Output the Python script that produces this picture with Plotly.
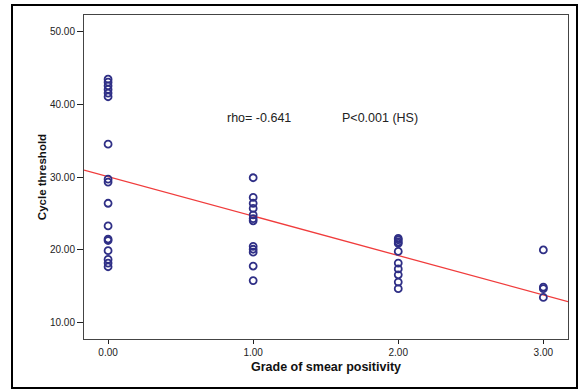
import plotly.graph_objects as go
import numpy as np

# Data
grade = ([0.0] * 17) + ([1.0] * 12) + ([2.0] * 10) + ([3.0] * 4)
ct_grade0 = [43.4, 43.0, 42.5, 42.0, 41.5, 41.0, 34.5, 29.7, 29.3, 26.4, 23.3,
             21.5, 21.3, 19.9, 18.7, 18.2, 17.7]
ct_grade1 = [29.9, 27.2, 26.4, 25.7, 24.8, 24.3, 24.0, 20.5, 20.1, 19.7, 17.8, 15.8]
ct_grade2 = [21.6, 21.4, 21.1, 20.9, 19.8, 18.2, 17.4, 16.6, 15.6, 14.7]
ct_grade3 = [20.0, 14.9, 14.7, 13.5]
cycle_threshold = ct_grade0 + ct_grade1 + ct_grade2 + ct_grade3

fit_intercept = 30.06
fit_slope = -5.41

x_ticks = [0, 1, 2, 3]
x_tick_labels = ["0.00", "1.00", "2.00", "3.00"]
y_ticks = [10, 20, 30, 40, 50]
y_tick_labels = ["10.00", "20.00", "30.00", "40.00", "50.00"]

x_range = [-0.166, 3.17]
y_range = [7.8, 52.2]

line_x = np.array(x_range)
line_y = fit_intercept + fit_slope * line_x

fig = go.Figure()
fig.add_trace(go.Scatter(
    x=line_x, y=line_y, mode="lines",
    line=dict(color="#f03c3c", width=1.3), hoverinfo="skip", showlegend=False))
fig.add_trace(go.Scatter(
    x=grade, y=cycle_threshold, mode="markers",
    marker=dict(symbol="circle-open", size=7, color="#2f2f86",
                line=dict(width=1.8, color="#2f2f86")),
    showlegend=False))

ann_font = dict(family="Liberation Sans, Arial", size=12.5, color="#222")
fig.add_annotation(x=1.04, y=38.1, text="rho= -0.641", showarrow=False, font=ann_font)
fig.add_annotation(x=1.876, y=38.1, text="P<0.001 (HS)", showarrow=False, font=ann_font)

# outer frame
fig.add_shape(type="rect", xref="paper", yref="paper",
              x0=(12 - 84) / 484, x1=(577 - 84) / 484,
              y0=(339 - 388) / 324, y1=(339 - 5) / 324,
              line=dict(color="black", width=2), layer="below")

axis_font = dict(family="Liberation Sans, Arial", size=10, color="#222")

fig.update_layout(
    width=579, height=390,
    margin=dict(l=84, r=11, t=15, b=51),
    paper_bgcolor="white", plot_bgcolor="white",
    xaxis=dict(range=x_range, tickvals=x_ticks, ticktext=x_tick_labels,
               showgrid=False, zeroline=False, showline=True, mirror=True,
               linecolor="#444", linewidth=1, ticks="outside", ticklen=4,
               tickcolor="#222", tickfont=axis_font,
               title=dict(text="<b>Grade of smear positivity</b>",
                          font=dict(family="Liberation Sans, Arial", size=12.5, color="#111"),
                          standoff=5)),
    yaxis=dict(range=y_range, tickvals=y_ticks, ticktext=y_tick_labels,
               showgrid=False, zeroline=False, showline=True, mirror=True,
               linecolor="#444", linewidth=1, ticks="outside", ticklen=6,
               tickcolor="#222", tickfont=axis_font,
               title=dict(text="<b>Cycle threshold</b>",
                          font=dict(family="Liberation Sans, Arial", size=11.5, color="#111"),
                          standoff=0)),
)

fig.write_html("out.html", config={"displayModeBar": False},
               post_script="document.body.style.margin='0';document.body.style.overflow='hidden';")
